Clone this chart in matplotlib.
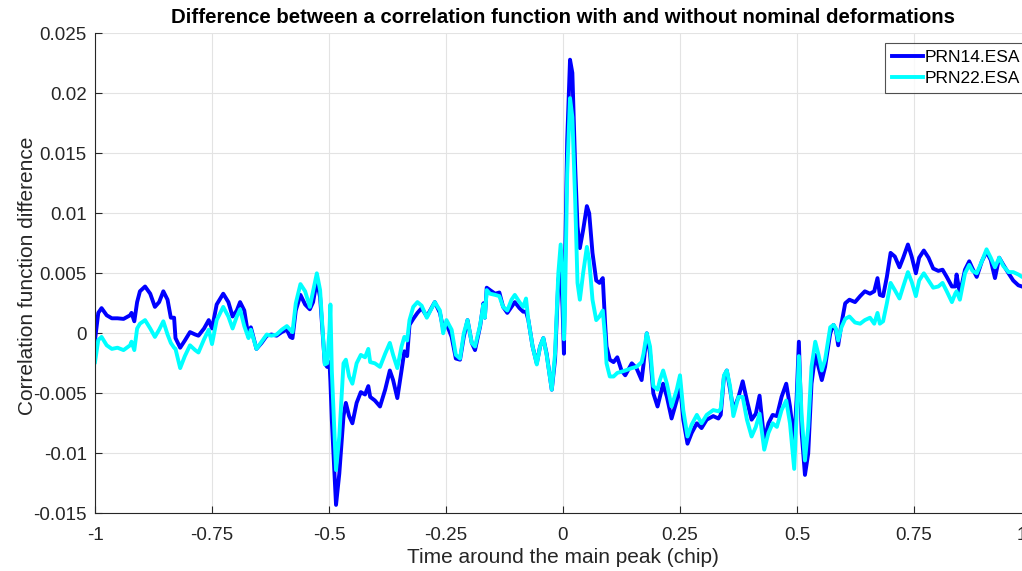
import numpy as np
import matplotlib
matplotlib.use("Agg")
import matplotlib.pyplot as plt
import matplotlib.transforms as mtransforms

plt.rcParams['font.family'] = ['Liberation Sans', 'DejaVu Sans']

# time around the main peak (chip)
t_chip = np.array([
    -1.000, -0.993, -0.986, -0.975, -0.964, -0.952, -0.939, -0.925, -0.922, -0.916,
    -0.910, -0.904, -0.893, -0.882, -0.872, -0.863, -0.854, -0.845, -0.838, -0.831,
    -0.828, -0.818, -0.808, -0.797, -0.786, -0.779, -0.767, -0.757, -0.750, -0.740,
    -0.726, -0.715, -0.706, -0.697, -0.690, -0.681, -0.672, -0.667, -0.655, -0.644,
    -0.633, -0.623, -0.612, -0.601, -0.590, -0.583, -0.578, -0.571, -0.561, -0.551,
    -0.541, -0.534, -0.526, -0.519, -0.509, -0.504, -0.499, -0.497, -0.494, -0.485,
    -0.478, -0.469, -0.464, -0.457, -0.450, -0.441, -0.432, -0.423, -0.416, -0.412,
    -0.402, -0.391, -0.380, -0.370, -0.363, -0.354, -0.345, -0.339, -0.333, -0.328,
    -0.320, -0.311, -0.302, -0.291, -0.274, -0.263, -0.256, -0.249, -0.238, -0.229,
    -0.220, -0.212, -0.204, -0.195, -0.188, -0.177, -0.170, -0.167, -0.163, -0.156,
    -0.145, -0.136, -0.128, -0.119, -0.110, -0.103, -0.093, -0.085, -0.079, -0.074,
    -0.065, -0.056, -0.049, -0.042, -0.035, -0.024, -0.017, -0.010, -0.005, -0.001,
    0.002, 0.004, 0.009, 0.015, 0.020, 0.026, 0.031, 0.036, 0.043, 0.051,
    0.056, 0.063, 0.071, 0.078, 0.085, 0.090, 0.093, 0.100, 0.108, 0.116,
    0.125, 0.133, 0.147, 0.157, 0.168, 0.172, 0.179, 0.186, 0.193, 0.202,
    0.207, 0.214, 0.222, 0.232, 0.243, 0.250, 0.257, 0.266, 0.275, 0.286,
    0.296, 0.307, 0.321, 0.332, 0.337, 0.344, 0.350, 0.357, 0.364, 0.375,
    0.384, 0.393, 0.403, 0.412, 0.420, 0.430, 0.439, 0.448, 0.457, 0.467,
    0.477, 0.485, 0.494, 0.499, 0.504, 0.510, 0.517, 0.524, 0.531, 0.539,
    0.546, 0.553, 0.560, 0.571, 0.578, 0.583, 0.588, 0.595, 0.603, 0.612,
    0.624, 0.635, 0.645, 0.656, 0.665, 0.672, 0.677, 0.684, 0.692, 0.700,
    0.709, 0.719, 0.727, 0.737, 0.745, 0.754, 0.761, 0.771, 0.781, 0.791,
    0.802, 0.811, 0.820, 0.831, 0.838, 0.841, 0.848, 0.859, 0.868, 0.875,
    0.884, 0.895, 0.905, 0.914, 0.923, 0.932, 0.941, 0.952, 0.962, 0.973,
    0.981, 1.000])

# PRN14.ESA
prn14 = np.array([
    -0.00056, 0.0017, 0.0021, 0.0015, 0.00125, 0.00125, 0.0012, 0.0015, 0.0017, 0.0010,
    0.0026, 0.0035, 0.0039, 0.0033, 0.0022, 0.0026, 0.0035, 0.0028, 0.0013, 0.0013,
    -0.0004, -0.0012, -0.0006, 0.0001, -0.0001, -0.0002, 0.0004, 0.0011, 0.0004, 0.0024,
    0.0033, 0.0026, 0.0014, 0.0019, 0.0026, 0.0019, -0.0003, 0.0005, -0.0013, -0.0008,
    -0.0002, -0.0001, -0.0002, 0.0001, 0.0003, -0.0003, -0.0004, 0.0019, 0.0032, 0.0024,
    0.0020, 0.0026, 0.0044, 0.0030, -0.0025, -0.0028, -0.0024, -0.0040, -0.0072, -0.0143,
    -0.0117, -0.0069, -0.0058, -0.0069, -0.0075, -0.0058, -0.0049, -0.0051, -0.0044, -0.0053,
    -0.0056, -0.0061, -0.0047, -0.0031, -0.0039, -0.0054, -0.0031, -0.0015, -0.0019, 0.0007,
    0.0012, 0.0017, 0.0021, 0.0014, 0.0026, 0.0017, 0.0004, 0.0008, -0.0003, -0.0021,
    -0.0022, -0.0003, 0.0011, -0.0008, -0.0014, 0.0006, 0.0025, 0.0013, 0.0038, 0.0036,
    0.0033, 0.0034, 0.0022, 0.0017, 0.0022, 0.0026, 0.0021, 0.0018, 0.0018, 0.0011,
    -0.0011, -0.0025, -0.0011, -0.0004, -0.0017, -0.0047, -0.0022, 0.0044, 0.0056, 0.0022,
    -0.0017, 0.0050, 0.0161, 0.0228, 0.0217, 0.0139, 0.0089, 0.0071, 0.0086, 0.0106,
    0.0100, 0.0067, 0.0044, 0.0042, 0.0046, 0.0008, -0.0011, -0.0022, -0.0024, -0.0020,
    -0.0031, -0.0035, -0.0025, -0.0029, -0.0039, -0.0026, 0.0000, -0.0017, -0.0050, -0.0061,
    -0.0053, -0.0042, -0.0053, -0.0071, -0.0056, -0.0042, -0.0072, -0.0092, -0.0083, -0.0075,
    -0.0079, -0.0072, -0.0069, -0.0071, -0.0068, -0.0036, -0.0031, -0.0047, -0.0064, -0.0053,
    -0.0040, -0.0056, -0.0072, -0.0067, -0.0052, -0.0089, -0.0075, -0.0068, -0.0069, -0.0053,
    -0.0042, -0.0061, -0.0090, -0.0056, -0.0007, -0.0083, -0.0118, -0.0100, -0.0042, -0.0018,
    -0.0028, -0.0039, -0.0028, 0.0000, 0.0007, 0.0003, -0.0010, 0.0008, 0.0025, 0.0028,
    0.0026, 0.0031, 0.0035, 0.0033, 0.0035, 0.0046, 0.0032, 0.0031, 0.0047, 0.0067,
    0.0064, 0.0055, 0.0063, 0.0074, 0.0064, 0.0050, 0.0063, 0.0069, 0.0063, 0.0054,
    0.0052, 0.0053, 0.0047, 0.0039, 0.0039, 0.0049, 0.0033, 0.0053, 0.0060, 0.0054,
    0.0047, 0.0060, 0.0068, 0.0061, 0.0046, 0.0063, 0.0057, 0.0050, 0.0044, 0.0040,
    0.0039, 0.0036])

# PRN22.ESA
prn22 = np.array([
    -0.0024, -0.00056, -0.0003, -0.0010, -0.0013, -0.0012, -0.0014, -0.0010, -0.0007, -0.0014,
    0.0004, 0.0008, 0.0011, 0.0004, -0.0003, 0.0003, 0.0010, -0.0001, -0.0008, -0.0012,
    -0.0013, -0.0029, -0.0019, -0.0010, -0.0014, -0.0016, -0.0005, 0.0003, -0.0009, 0.0011,
    0.0022, 0.0014, 0.0004, 0.0014, 0.0020, 0.0006, -0.0004, 0.0003, -0.0013, -0.0007,
    -0.0001, -0.0002, -0.0001, 0.0003, 0.0006, 0.0003, 0.0001, 0.0025, 0.0041, 0.0035,
    0.0022, 0.0035, 0.0050, 0.0036, -0.0026, -0.0025, 0.0003, 0.0024, -0.0031, -0.0114,
    -0.0086, -0.0025, -0.0022, -0.0036, -0.0042, -0.0025, -0.0018, -0.0020, -0.0013, -0.0024,
    -0.0025, -0.0028, -0.0017, -0.0008, -0.0018, -0.0029, -0.0011, -0.0003, -0.0006, 0.0011,
    0.0022, 0.0026, 0.0023, 0.0013, 0.0026, 0.0019, 0.0000, 0.0011, 0.0003, -0.0018,
    -0.0021, 0.0000, 0.0011, -0.0008, -0.0011, 0.0007, 0.0024, 0.0013, 0.0036, 0.0033,
    0.0032, 0.0031, 0.0022, 0.0019, 0.0028, 0.0032, 0.0026, 0.0022, 0.0029, 0.0011,
    -0.0011, -0.0026, -0.0011, -0.0004, -0.0018, -0.0047, -0.0017, 0.0050, 0.0074, 0.0050,
    -0.0005, 0.0017, 0.0133, 0.0196, 0.0180, 0.0111, 0.0042, 0.0028, 0.0050, 0.0072,
    0.0061, 0.0028, 0.0011, 0.0014, 0.0019, -0.0004, -0.0025, -0.0036, -0.0036, -0.0033,
    -0.0032, -0.0031, -0.0029, -0.0028, -0.0024, -0.0017, 0.0000, -0.0011, -0.0044, -0.0047,
    -0.0039, -0.0031, -0.0042, -0.0061, -0.0047, -0.0035, -0.0064, -0.0086, -0.0076, -0.0068,
    -0.0075, -0.0068, -0.0064, -0.0065, -0.0063, -0.0035, -0.0031, -0.0044, -0.0069, -0.0053,
    -0.0053, -0.0072, -0.0086, -0.0078, -0.0067, -0.0097, -0.0083, -0.0075, -0.0078, -0.0064,
    -0.0056, -0.0075, -0.0113, -0.0069, -0.0019, -0.0069, -0.0106, -0.0078, -0.0028, -0.0007,
    -0.0018, -0.0031, -0.0022, 0.0005, 0.0007, 0.0004, -0.0006, 0.0005, 0.0012, 0.0014,
    0.0009, 0.0008, 0.0011, 0.0013, 0.0008, 0.0017, 0.0008, 0.0010, 0.0025, 0.0042,
    0.0036, 0.0029, 0.0039, 0.0051, 0.0043, 0.0031, 0.0044, 0.0050, 0.0044, 0.0038,
    0.0039, 0.0042, 0.0035, 0.0026, 0.0033, 0.0035, 0.0028, 0.0050, 0.0057, 0.0052,
    0.0050, 0.0060, 0.0070, 0.0063, 0.0055, 0.0063, 0.0056, 0.0051, 0.0051, 0.0049,
    0.0047, 0.0046])

x_ticks = [-1, -0.75, -0.5, -0.25, 0, 0.25, 0.5, 0.75, 1]
x_labels = ['-1', '-0.75', '-0.5', '-0.25', '0', '0.25', '0.5', '0.75', '1']
y_ticks = [-0.015, -0.01, -0.005, 0, 0.005, 0.01, 0.015, 0.02, 0.025]
y_labels = ['-0.015', '-0.01', '-0.005', '0', '0.005', '0.01', '0.015', '0.02', '0.025']

axcol = '#262626'

fig = plt.figure(figsize=(10.22, 5.71), dpi=100)
# axes runs a bit past the right border, as in the cropped original
ax = fig.add_axes([95/1022, 57.7/571, 936/1022, 480/571])

ax.plot(t_chip, prn14, color='#0000ff', lw=2.8, label='PRN14.ESA')
ax.plot(t_chip, prn22, color='#00ffff', lw=2.8, label='PRN22.ESA')

ax.set_xlim(-1, 1)
ax.set_ylim(-0.015, 0.025)
ax.set_xticks(x_ticks)
ax.set_xticklabels(x_labels)
ax.set_yticks(y_ticks)
ax.set_yticklabels(y_labels)
ax.tick_params(direction='in', length=5, width=0.8, colors=axcol, labelsize=13.5, pad=6)
ax.tick_params(axis='x', pad=10)
ax.grid(True, color='#e3e3e3', lw=0.8)
ax.set_axisbelow(True)
for s in ['top', 'right']:
    ax.spines[s].set_visible(False)
for s in ['left', 'bottom']:
    ax.spines[s].set_color(axcol)
    ax.spines[s].set_linewidth(0.8)

# last x label sits on the cut edge, nudge it so a bit of it shows
last = ax.get_xticklabels()[-1]
last.set_transform(last.get_transform() + mtransforms.ScaledTranslation(-9/100, 0, fig.dpi_scale_trans))

ax.set_xlabel('Time around the main peak (chip)', fontsize=15, color=axcol, labelpad=3)
ax.set_ylabel('Correlation function difference', fontsize=15, color=axcol)
ax.yaxis.set_label_coords(-0.062, 0.494)
fig.text(563/1022, 1 - 17.5/571, 'Difference between a correlation function with and without nominal deformations',
         ha='center', va='center', fontsize=14.7, fontweight='bold', color='black')

leg = ax.legend(loc='upper right', bbox_to_anchor=(1027/1022, 1 - 43/571),
                bbox_transform=fig.transFigure, fontsize=12.5, frameon=True, fancybox=False,
                edgecolor=axcol, handlelength=1.8, handletextpad=0.1, labelspacing=0.32,
                borderpad=0.4, borderaxespad=0)
leg.get_frame().set_linewidth(0.8)

fig.savefig('out.png', dpi=100)
